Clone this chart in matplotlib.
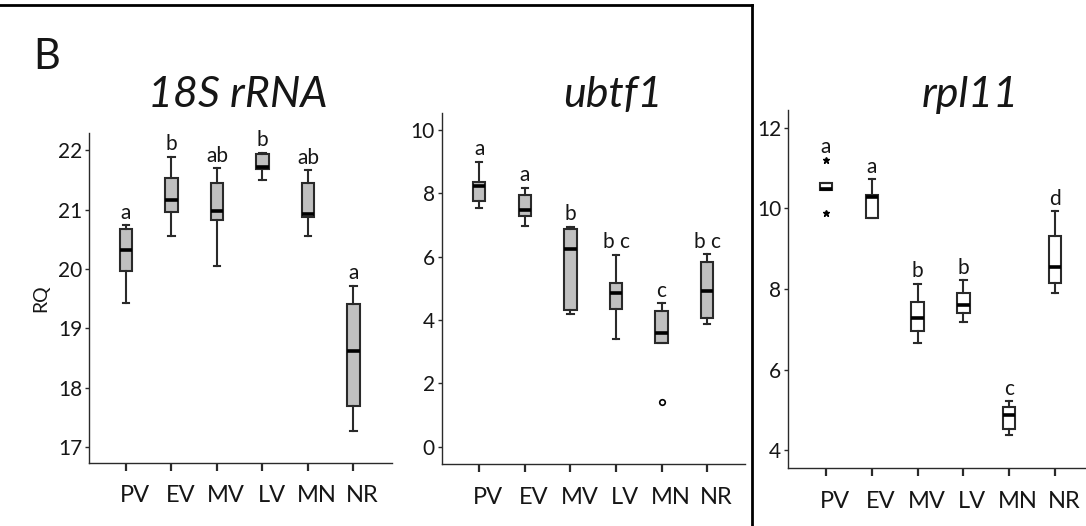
import matplotlib
matplotlib.use("Agg")
import matplotlib.pyplot as plt
from matplotlib.lines import Line2D
from matplotlib.transforms import ScaledTranslation

plt.rcParams['font.family'] = ['Lato', 'DejaVu Sans']

# ==========================
# DATA
# ==========================
groups = ["PV", "EV", "MV", "LV", "MN", "NR"]

# 18S rRNA
rrna_whislo = [19.42, 20.55, 20.05, 21.49, 20.56, 17.27]
rrna_q1 = [19.96, 20.96, 20.82, 21.68, 20.88, 17.70]
rrna_med = [20.32, 21.17, 20.97, 21.72, 20.92, 18.62]
rrna_q3 = [20.68, 21.54, 21.45, 21.93, 21.45, 19.41]
rrna_whishi = [20.74, 21.89, 21.70, 21.96, 21.66, 19.72]
rrna_fliers = [[], [], [], [], [], []]
rrna_letters = ["a", "b", "ab", "b", "ab", "a"]
rrna_ticks = [17, 18, 19, 20, 21, 22]

# ubtf1
ubtf_whislo = [7.53, 6.98, 4.18, 3.39, 3.28, 3.89]
ubtf_q1 = [7.77, 7.28, 4.32, 4.34, 3.28, 4.05]
ubtf_med = [8.23, 7.47, 6.23, 4.87, 3.58, 4.92]
ubtf_q3 = [8.37, 7.95, 6.86, 5.16, 4.29, 5.82]
ubtf_whishi = [9.00, 8.18, 6.95, 6.07, 4.53, 6.08]
ubtf_fliers = [[], [], [], [], [1.42], []]
ubtf_letters = ["a", "a", "b", "b c", "c", "b c"]
ubtf_ticks = [0, 2, 4, 6, 8, 10]

# rpl11
rpl_whislo = [10.45, 9.76, 6.67, 7.18, 4.38, 7.90]
rpl_q1 = [10.45, 9.76, 6.95, 7.41, 4.53, 8.15]
rpl_med = [10.47, 10.27, 7.29, 7.61, 4.86, 8.55]
rpl_q3 = [10.63, 10.33, 7.68, 7.89, 5.07, 9.31]
rpl_whishi = [10.63, 10.73, 8.13, 8.21, 5.21, 9.93]
rpl_fliers = [[11.21, 9.89], [], [], [], [], []]
rpl_letters = ["a", "a", "b", "b", "c", "d"]
rpl_ticks = [4, 6, 8, 10, 12]

EDGE = "#2a2a2a"
TXT = "#161616"


def draw_panel(ax, whislo, q1, med, q3, whishi, fliers, letters,
               yticks, ylim, xlim, fill, flier_style):
    stats = []
    for i in range(len(groups)):
        stats.append(dict(med=med[i], q1=q1[i], q3=q3[i], whislo=whislo[i],
                          whishi=whishi[i], fliers=fliers[i], label=groups[i]))

    ax.bxp(stats, positions=range(1, len(groups) + 1), widths=0.27,
           patch_artist=True, showfliers=True,
           boxprops=dict(facecolor=fill, edgecolor=EDGE, linewidth=1.5),
           medianprops=dict(color="black", linewidth=2.6),
           whiskerprops=dict(color=EDGE, linewidth=1.5),
           capprops=dict(color=EDGE, linewidth=1.5),
           capwidths=0.14,
           flierprops=flier_style)

    # significance letters above each box
    for i in range(len(groups)):
        top = max([whishi[i]] + list(fliers[i]))
        ax.annotate(letters[i], (i + 1, top), xytext=(0, 4.5),
                    textcoords="offset points", ha="center", va="baseline",
                    fontsize=15, color=TXT)

    ax.set_ylim(*ylim)
    ax.set_xlim(*xlim)
    ax.set_yticks(yticks)
    ax.set_xticks(range(1, len(groups) + 1))
    ax.set_xticklabels(groups)

    for side in ["top", "right"]:
        ax.spines[side].set_visible(False)
    for side in ["left", "bottom"]:
        ax.spines[side].set_color(EDGE)
        ax.spines[side].set_linewidth(1.0)

    ax.tick_params(axis="y", length=3, width=1, color=EDGE, pad=2,
                   labelsize=15, labelcolor=TXT)
    ax.tick_params(axis="x", length=6, width=1.6, color=EDGE, pad=10,
                   labelsize=17, labelcolor=TXT)

    # x labels sit a little to the right of their ticks in the original
    shift = ScaledTranslation(9 / 100, 0, ax.figure.dpi_scale_trans)
    for lab in ax.get_xticklabels():
        lab.set_transform(lab.get_transform() + shift)


fig = plt.figure(figsize=(10.86, 5.26), dpi=100)

ax1 = fig.add_axes([0.0820, 0.1204, 0.2790, 0.6268])
ax2 = fig.add_axes([0.4067, 0.1173, 0.2793, 0.6673])
ax3 = fig.add_axes([0.7259, 0.1097, 0.2741, 0.6812])

draw_panel(ax1, rrna_whislo, rrna_q1, rrna_med, rrna_q3,
           rrna_whishi, rrna_fliers, rrna_letters, rrna_ticks,
           (16.74, 22.29), (0.187, 6.85), "#c0c0c0",
           dict(marker="o", markersize=4, markerfacecolor="white",
                markeredgecolor="black"))
draw_panel(ax2, ubtf_whislo, ubtf_q1, ubtf_med, ubtf_q3,
           ubtf_whishi, ubtf_fliers, ubtf_letters, ubtf_ticks,
           (-0.556, 10.53), (0.175, 6.83), "#c0c0c0",
           dict(marker="o", markersize=4, markerfacecolor="white",
                markeredgecolor="black", markeredgewidth=1.2))
draw_panel(ax3, rpl_whislo, rpl_q1, rpl_med, rpl_q3,
           rpl_whishi, rpl_fliers, rpl_letters, rpl_ticks,
           (3.55, 12.44), (0.177, 6.68), "white",
           dict(marker="*", markersize=5, markerfacecolor="black",
                markeredgecolor="black"))

# gene titles, all on the same baseline
title_y = 1 - 107 / 526
fig.text(238 / 1086, title_y, "18S rRNA", fontsize=31, style="italic",
         ha="center", va="baseline", color=TXT)
fig.text(613 / 1086, title_y, "ubtf1", fontsize=31, style="italic",
         ha="center", va="baseline", color=TXT)
fig.text(970 / 1086, title_y, "rpl11", fontsize=31, style="italic",
         ha="center", va="baseline", color=TXT)

ax1.set_ylabel("RQ", fontsize=14, labelpad=6, color=TXT)

# panel letter
fig.text(0.031, 0.891, "B", fontsize=30, ha="left", va="center", color=TXT)

# frame lines around the left block
fig.add_artist(Line2D([0, 752 / 1086], [1 - 5 / 526, 1 - 5 / 526],
                      transform=fig.transFigure, color="black", linewidth=2))
fig.add_artist(Line2D([752 / 1086, 752 / 1086], [1 - 5 / 526, 0],
                      transform=fig.transFigure, color="black", linewidth=2))

fig.savefig("out.png", dpi=100)
